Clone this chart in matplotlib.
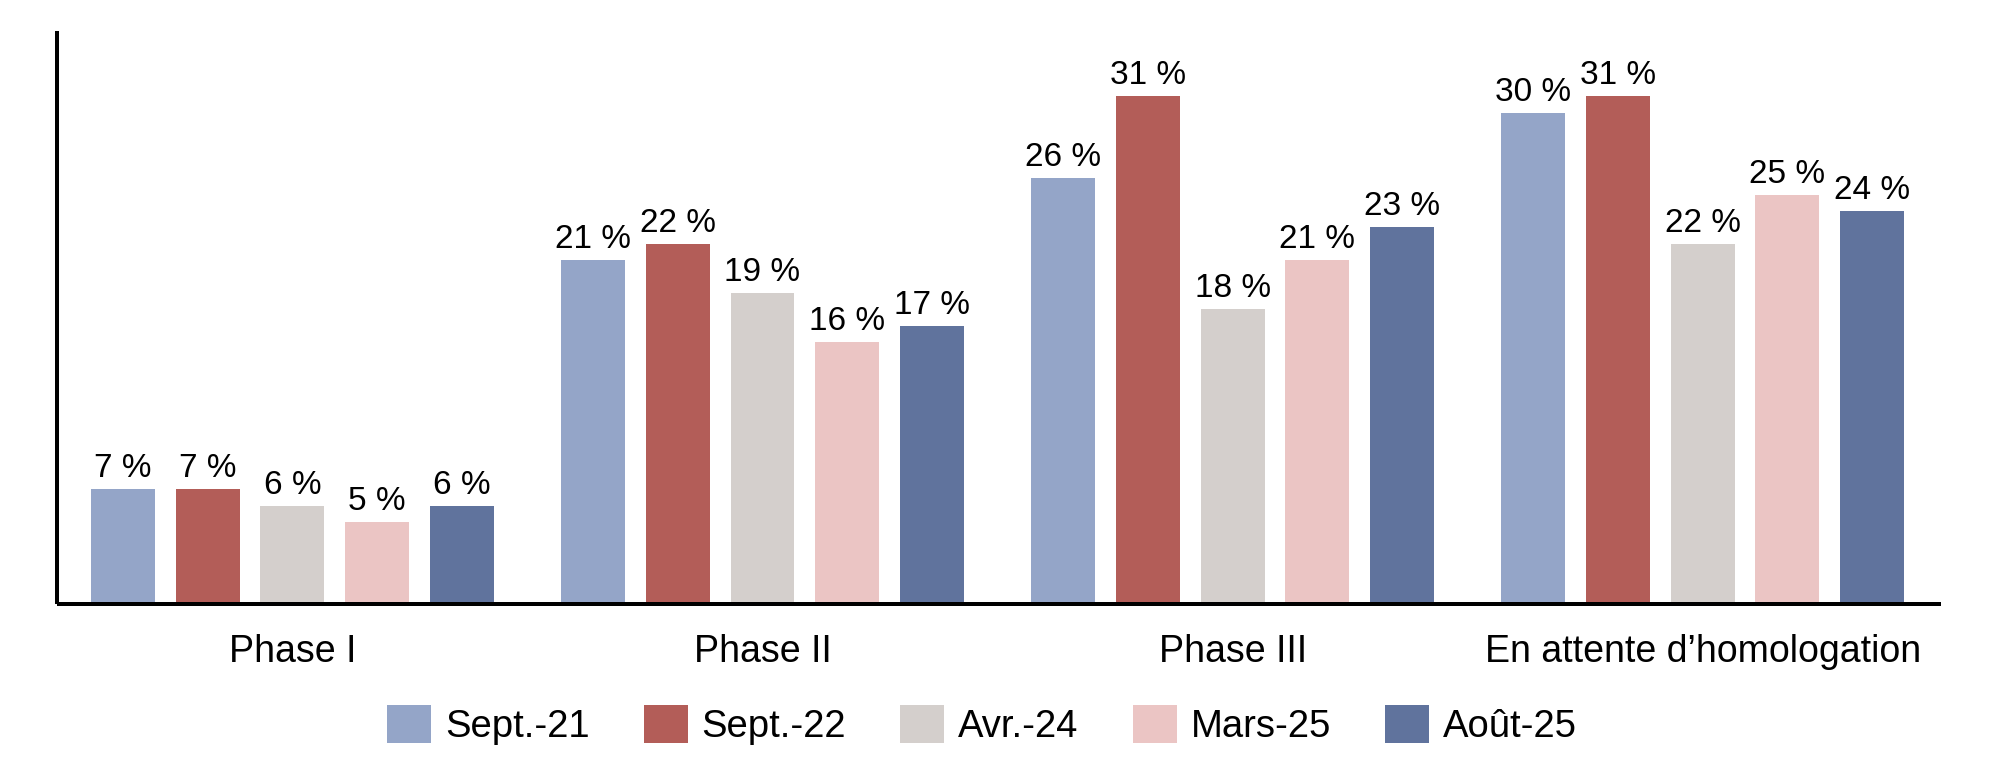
import matplotlib
matplotlib.use("Agg")
import matplotlib.pyplot as plt
from matplotlib.patches import Patch

plt.rcParams['font.family'] = ['Liberation Sans', 'DejaVu Sans']

categories = ["Phase I", "Phase II", "Phase III", "En attente d\u2019homologation"]
series_names = ["Sept.-21", "Sept.-22", "Avr.-24", "Mars-25", "Ao\u00fbt-25"]
sept21 = [7, 21, 26, 30]
sept22 = [7, 22, 31, 31]
avr24 = [6, 19, 18, 22]
mars25 = [5, 16, 21, 25]
aout25 = [6, 17, 23, 24]
series_values = [sept21, sept22, avr24, mars25, aout25]
colors = ["#94A5C8", "#B35D58", "#D4CFCC", "#EBC5C4", "#60739D"]

DPI = 100
fig = plt.figure(figsize=(20, 7.73), dpi=DPI)
W, H = 2000, 773
ax = fig.add_axes([57 / W, 1 - 604 / H, (1941 - 57) / W, (604 - 31) / H])

bar_w = 0.136
step = 0.180
px2pt = 72 / DPI
for k, (vals, col) in enumerate(zip(series_values, colors)):
    xs = [i + (k - 2) * step for i in range(len(categories))]
    ax.bar(xs, vals, width=bar_w, color=col, linewidth=0, zorder=2)
    for x, v in zip(xs, vals):
        ax.annotate(f"{v}\u00a0%", xy=(x, v), xytext=(0, 12 * px2pt),
                    textcoords="offset points", ha="center", va="baseline",
                    fontsize=24, color="black")

for i, c in enumerate(categories):
    ax.annotate(c, xy=(i, 0), xycoords=("data", "data"),
                xytext=(0, -58 * px2pt), textcoords="offset points",
                ha="center", va="baseline", fontsize=27, color="black",
                annotation_clip=False)

ax.set_xlim(-0.5008, 3.507)
ax.set_ylim(0, 35)
ax.set_xticks([])
ax.set_yticks([])
for s in ["top", "right"]:
    ax.spines[s].set_visible(False)
for s in ["left", "bottom"]:
    ax.spines[s].set_linewidth(4 * px2pt)
    ax.spines[s].set_color("black")
    ax.spines[s].set_capstyle("butt")
    ax.spines[s].set_zorder(3)

handles = [Patch(facecolor=c, edgecolor="none", label=n) for c, n in zip(colors, series_names)]
fs_leg = 27.5
fs_px = fs_leg / px2pt
fig.legend(handles=handles, loc="center", bbox_to_anchor=(982 / W, 1 - 725 / H),
           ncol=5, frameon=False, fontsize=fs_leg,
           handlelength=44 / fs_px, handleheight=44 / fs_px,
           handletextpad=14 / fs_px, columnspacing=54 / fs_px,
           borderpad=0, borderaxespad=0)

fig.savefig("out.png", dpi=DPI)
